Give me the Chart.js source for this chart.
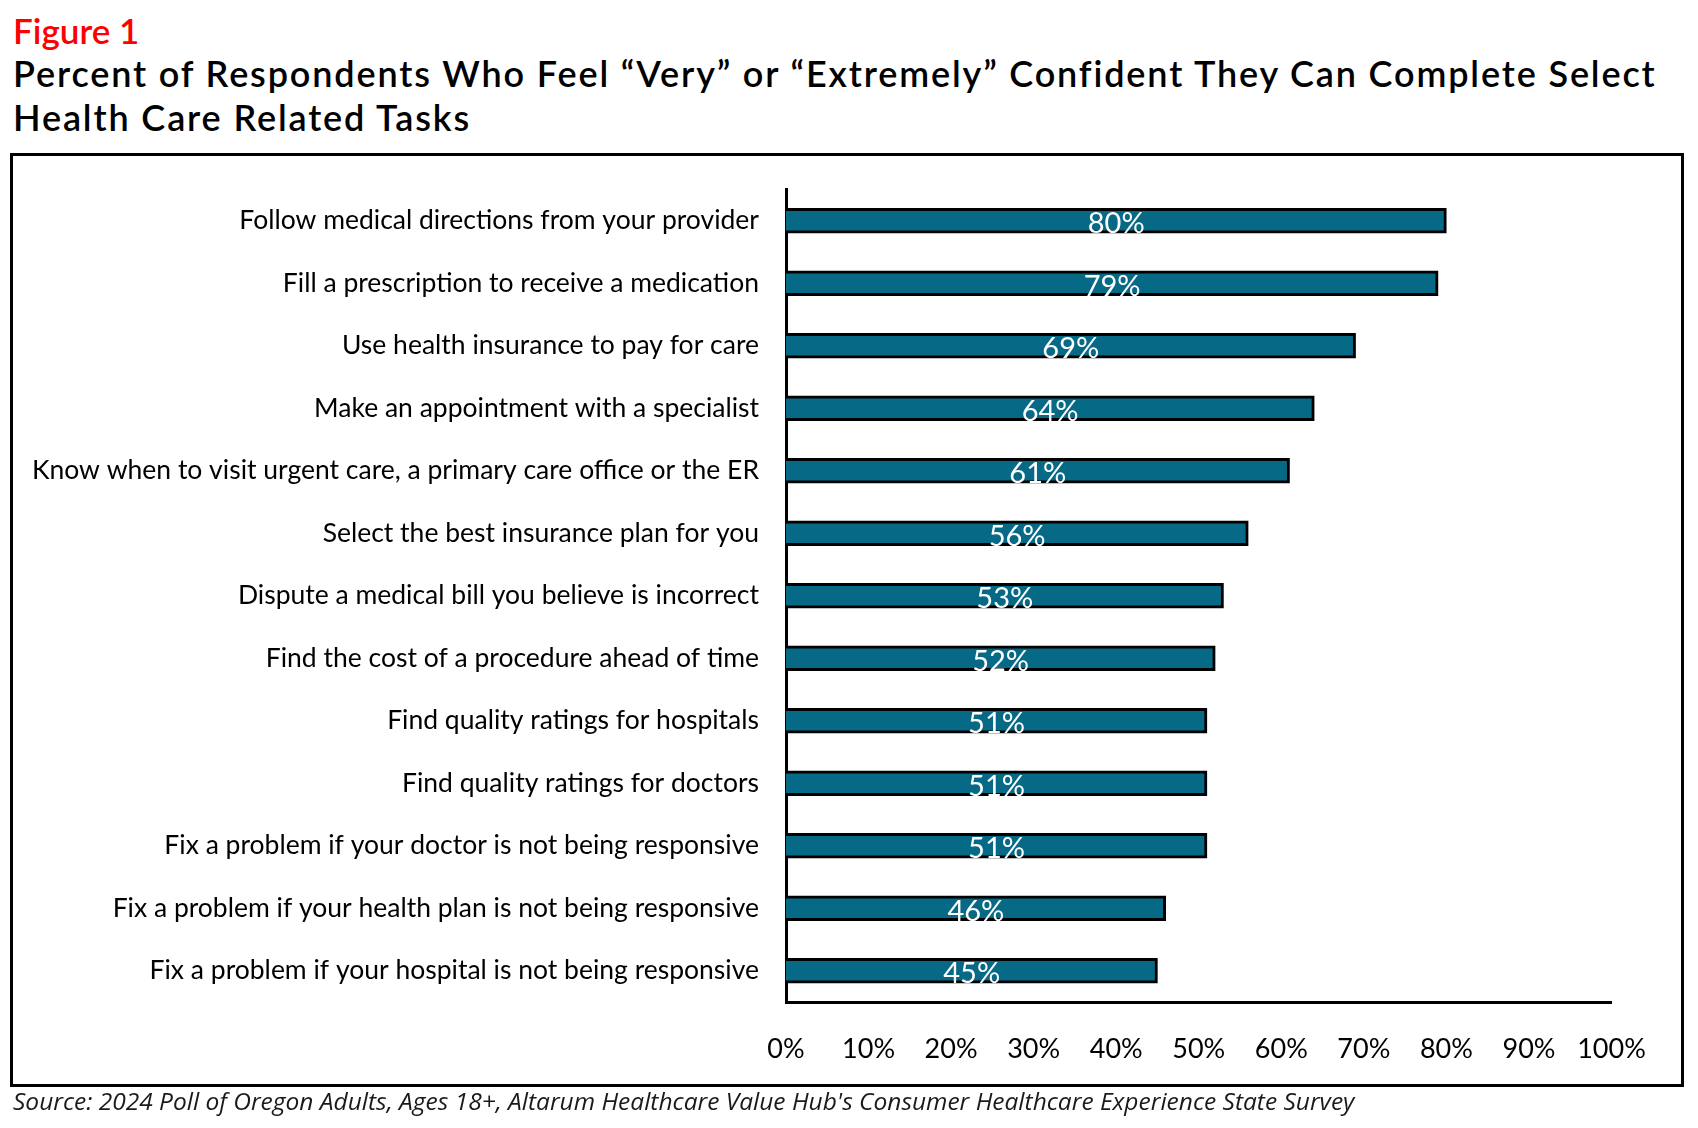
<!DOCTYPE html>
<html>
<head>
<meta charset="utf-8">
<script src="https://cdn.jsdelivr.net/npm/chart.js@4.4.1/dist/chart.umd.min.js"></script>
<style>
  html, body { margin:0; padding:0; background:#fff; }
  #page { position:relative; width:1698px; height:1128px; overflow:hidden; font-family: Lato, "Open Sans", sans-serif; }
  #fig { position:absolute; left:13px; top:9px; font-size:35px; line-height:42px; color:#ff0000; font-weight:600; white-space:nowrap; }
  #title { position:absolute; left:13px; top:51px; font-size:36px; line-height:44px; color:#000; font-weight:600; white-space:nowrap; }
  #box { position:absolute; left:10px; top:153px; width:1674px; height:934px; box-sizing:border-box; border:3px solid #000; }
  #src { position:absolute; left:13px; top:1087px; font-family:"Open Sans", sans-serif; font-size:24.5px; line-height:28px; font-style:italic; color:#1a1a1a; white-space:nowrap; }
  #c { position:absolute; left:0; top:0; }
</style>
</head>
<body>
<div id="page">
  <div id="fig">Figure 1</div>
  <div id="title"><span id="t1">Percent of Respondents Who Feel “Very” or “Extremely” Confident They Can Complete Select</span><br><span id="t2">Health Care Related Tasks</span></div>
  <div id="box"></div>
  <canvas id="c" width="1698" height="1128"></canvas>
  <div id="src">Source: 2024 Poll of Oregon Adults, Ages 18+, Altarum Healthcare Value Hub's Consumer Healthcare Experience State Survey</div>
</div>
<script>
const categories = [
  "Follow medical directions from your provider",
  "Fill a prescription to receive a medication",
  "Use health insurance to pay for care",
  "Make an appointment with a specialist",
  "Know when to visit urgent care, a primary care office or the ER",
  "Select the best insurance plan for you",
  "Dispute a medical bill you believe is incorrect",
  "Find the cost of a procedure ahead of time",
  "Find quality ratings for hospitals",
  "Find quality ratings for doctors",
  "Fix a problem if your doctor is not being responsive",
  "Fix a problem if your health plan is not being responsive",
  "Fix a problem if your hospital is not being responsive"
];
const values = [80, 79, 69, 64, 61, 56, 53, 52, 51, 51, 51, 46, 45];
const xTicks = [0, 10, 20, 30, 40, 50, 60, 70, 80, 90, 100];

// widen title spacing so line 1 spans the same width as in the reference
(function fitTitle() {
  const t1 = document.getElementById('t1');
  const title = document.getElementById('title');
  const target = 1643;
  const w = t1.getBoundingClientRect().width;
  const n = t1.textContent.length;
  const ls = (target - w) / n;
  if (ls > 0 && ls < 4) title.style.letterSpacing = ls.toFixed(2) + 'px';
})();

const barLabels = {
  id: 'barLabels',
  afterDatasetsDraw(chart) {
    const ctx = chart.ctx;
    const meta = chart.getDatasetMeta(0);
    ctx.save();
    ctx.font = '29px Lato, sans-serif';
    ctx.fillStyle = '#ffffff';
    ctx.textAlign = 'center';
    ctx.textBaseline = 'middle';
    meta.data.forEach((bar, i) => {
      const cx = (bar.x + bar.base) / 2;
      ctx.fillText(values[i] + '%', cx, bar.y + 3);
    });
    ctx.restore();
  }
};

new Chart(document.getElementById('c'), {
  type: 'bar',
  data: {
    labels: categories,
    datasets: [{
      data: values,
      backgroundColor: '#066986',
      borderColor: '#000000',
      borderWidth: 3,
      borderSkipped: 'start',
      barThickness: 25
    }]
  },
  options: {
    indexAxis: 'y',
    responsive: false,
    animation: false,
    devicePixelRatio: 1,
    layout: { padding: { left: 0, right: 86.5, top: 189.5, bottom: 0 } },
    plugins: { legend: { display: false }, tooltip: { enabled: false } },
    scales: {
      x: {
        min: 0, max: 100,
        afterBuildTicks(scale) { scale.ticks = xTicks.map(v => ({ value: v })); },
        afterFit(scale) { scale.height = 1128 - 1002; },
        grid: { display: false, drawTicks: false },
        border: { display: true, color: '#000', width: 3 },
        ticks: {
          padding: 31,
          color: '#000',
          font: { family: 'Lato', size: 27 },
          maxRotation: 0,
          autoSkip: false,
          callback: (v) => v + '%'
        }
      },
      y: {
        afterFit(scale) { scale.width = 786; },
        grid: { display: false, drawTicks: false },
        border: { display: true, color: '#000', width: 3 },
        ticks: {
          padding: 27,
          color: '#000',
          font: { family: 'Lato', size: 26.5 },
          autoSkip: false
        }
      }
    }
  },
  plugins: [barLabels]
});
</script>
</body>
</html>
